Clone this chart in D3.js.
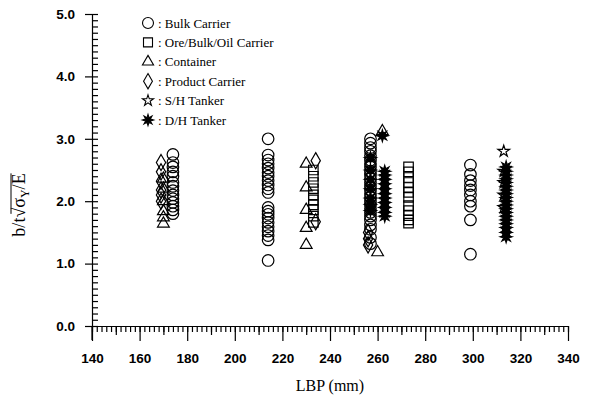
<!DOCTYPE html>
<html>
<head>
<meta charset="utf-8">
<script src="https://cdn.jsdelivr.net/npm/d3@7"></script>
<style>
  body { margin: 0; background: #fff; }
  svg { display: block; }
  .tick text { font-family: "Liberation Sans", Arial, sans-serif; font-weight: bold; font-size: 13.5px; fill: #000; }
  .domain, .tick line { stroke: #000; stroke-width: 1.2; }
</style>
</head>
<body>
<div id="chart"></div>
<script>
// chart size
const w = 594;
const h = 399;

// axis ticks
const xTicks = [140, 160, 180, 200, 220, 240, 260, 280, 300, 320, 340];
const yTicks = [0, 1, 2, 3, 4, 5];

// legend names
const seriesNames = [": Bulk Carrier", ": Ore/Bulk/Oil Carrier", ": Container", ": Product Carrier", ": S/H Tanker", ": D/H Tanker"];

// bulk carrier (circles)
const bulkLbp = [174,174,174,174,174,174,174,174,174,174,174,174,174,174,
  214,214,214,214,214,214,214,214,214,214,214,214,214,214,214,214,214,214,214,214,214,
  257,257,257,257,257,257,257,257,257,257,257,257,257,257,257,257,257,257,257,257,257,257,257,257,257,257,
  299,299,299,299,299,299,299,299,299,299];
const bulkVal = [2.75,2.62,2.55,2.47,2.40,2.30,2.24,2.17,2.10,2.04,1.98,1.92,1.86,1.80,
  3.00,2.74,2.66,2.60,2.53,2.46,2.40,2.33,2.26,2.20,2.14,1.90,1.84,1.79,1.73,1.66,1.59,1.52,1.45,1.38,1.05,
  3.00,2.93,2.86,2.80,2.73,2.66,2.60,2.55,2.48,2.42,2.36,2.30,2.24,2.18,2.12,2.06,2.00,1.94,1.88,1.82,1.76,1.70,1.62,1.55,1.42,1.32,
  2.58,2.43,2.33,2.25,2.18,2.10,2.00,1.92,1.70,1.15];

// ore/bulk/oil carrier (squares)
const oboLbp = [233,233,233,233,233,233,233,233,233,233,
  273,273,273,273,273,273,273,273,273,273,273,273];
const oboVal = [2.50,2.40,2.30,2.20,2.10,2.02,1.94,1.86,1.76,1.66,
  2.55,2.47,2.38,2.30,2.22,2.14,2.06,1.93,1.85,1.77,1.70,1.65];

// container (triangles)
const contLbp = [170,170,170,170,170,170, 230,230,230,230,230, 262,260];
const contVal = [2.36,2.20,2.00,1.84,1.74,1.64, 2.60,2.22,1.86,1.57,1.30, 3.12,1.18];

// product carrier (diamonds)
const prodLbp = [169,169,169,169,169,169, 234,234, 256,256,256];
const prodVal = [2.62,2.47,2.32,2.18,2.10,2.00, 2.65,1.67, 1.50,1.40,1.30];

// s/h tanker (open stars)
const shLbp = [313,313,313,313,313];
const shVal = [2.80,2.48,2.30,2.10,1.90];

// d/h tanker (filled bursts)
const dhLbp = [262,263,263,263,263,263,263,263,263,263,263,263,
  257,257,257,257,257,257,257,
  314,314,314,314,314,314,314,314,314,314,314,314,314,314,314,314,314,314,314];
const dhVal = [3.05,2.48,2.42,2.35,2.28,2.20,2.12,2.05,1.98,1.90,1.82,1.76,
  2.70,2.50,2.35,2.20,2.05,1.95,1.85,
  2.55,2.48,2.42,2.36,2.30,2.24,2.18,2.12,2.06,2.00,1.94,1.88,1.82,1.76,1.70,1.64,1.58,1.50,1.43];

// scales
const x = d3.scaleLinear().domain([140, 340]).range([92, 568]);
const y = d3.scaleLinear().domain([0, 5]).range([326, 14]);

const svg = d3.select("#chart").append("svg")
  .attr("width", w).attr("height", h);

// custom marker: 8 point burst
const burst = {
  draw(ctx, size) {
    const r = Math.sqrt(size) * 0.75, ri = r * 0.45;
    for (let i = 0; i < 16; i++) {
      const a = i * Math.PI / 8 - Math.PI / 2;
      const rr = i % 2 === 0 ? r : ri;
      if (i === 0) ctx.moveTo(rr * Math.cos(a), rr * Math.sin(a));
      else ctx.lineTo(rr * Math.cos(a), rr * Math.sin(a));
    }
    ctx.closePath();
  }
};

const series = [
  { lbp: bulkLbp, val: bulkVal, type: d3.symbolCircle, size: 105, fill: "none" },
  { lbp: oboLbp, val: oboVal, type: d3.symbolSquare, size: 90, fill: "none" },
  { lbp: contLbp, val: contVal, type: d3.symbolTriangle, size: 60, fill: "none" },
  { lbp: prodLbp, val: prodVal, type: d3.symbolDiamond, size: 75, fill: "none" },
  { lbp: shLbp, val: shVal, type: d3.symbolStar, size: 42, fill: "none" },
  { lbp: dhLbp, val: dhVal, type: burst, size: 62, fill: "#000" }
];

// axes - x (minor, mid, major)
svg.append("g")
  .attr("transform", "translate(0," + y(0) + ")")
  .call(d3.axisBottom(x).tickValues(d3.range(140, 341, 2)).tickSize(6).tickFormat(""))
  .call(g => g.select(".domain").remove());
svg.append("g")
  .attr("transform", "translate(0," + y(0) + ")")
  .call(d3.axisBottom(x).tickValues(d3.range(150, 340, 20)).tickSize(9).tickFormat(""))
  .call(g => g.select(".domain").remove());
svg.append("g")
  .attr("transform", "translate(0," + y(0) + ")")
  .call(d3.axisBottom(x).tickValues(xTicks).tickSizeInner(15).tickSizeOuter(0).tickPadding(12).tickFormat(d3.format("d")));

// axes - y
svg.append("g")
  .attr("transform", "translate(" + x(140) + ",0)")
  .call(d3.axisRight(y).tickValues(d3.range(0, 5.01, 0.1)).tickSize(6).tickFormat(""))
  .call(g => g.select(".domain").remove());
svg.append("g")
  .attr("transform", "translate(" + x(140) + ",0)")
  .call(d3.axisLeft(y).tickValues(yTicks).tickSizeInner(7).tickSizeOuter(0).tickPadding(10).tickFormat(d3.format(".1f")));
// small axis stub below zero
svg.append("line")
  .attr("x1", x(140)).attr("x2", x(140))
  .attr("y1", y(0)).attr("y2", y(0) + 14)
  .attr("stroke", "#000").attr("stroke-width", 1.2);

// plot points
series.forEach(s => {
  svg.append("g").selectAll("path")
    .data(s.lbp.map((l, i) => [l, s.val[i]]))
    .enter().append("path")
    .attr("transform", d => "translate(" + x(d[0]) + "," + y(d[1]) + ")")
    .attr("d", d3.symbol().type(s.type).size(s.size))
    .attr("fill", s.fill)
    .attr("stroke", "#000")
    .attr("stroke-width", 1.2);
});

// legend
const legend = svg.append("g").attr("transform", "translate(148,23)");
seriesNames.forEach((name, i) => {
  const s = series[i];
  legend.append("path")
    .attr("transform", "translate(0," + (i * 19.4) + ")")
    .attr("d", d3.symbol().type(s.type).size(s.size * 0.9))
    .attr("fill", s.fill)
    .attr("stroke", "#000")
    .attr("stroke-width", 1.1);
  legend.append("text")
    .attr("x", 10).attr("y", i * 19.4 + 4.5)
    .attr("font-family", "Liberation Serif, Times New Roman, serif")
    .attr("font-size", 13)
    .text(name);
});

// x title
svg.append("text")
  .attr("x", 330).attr("y", 391)
  .attr("text-anchor", "middle")
  .attr("font-family", "Liberation Serif, Times New Roman, serif")
  .attr("font-size", 16)
  .text("LBP (mm)");

// y title
const yt = svg.append("g").attr("transform", "translate(25,205) rotate(-90)");
const ytext = yt.append("text")
  .attr("text-anchor", "middle")
  .attr("font-family", "Liberation Serif, Times New Roman, serif")
  .attr("font-size", 18);
ytext.append("tspan").text("b/t√σ");
ytext.append("tspan").attr("font-size", 12).attr("dy", 4).text("Y");
ytext.append("tspan").attr("dy", -4).text("/E");
// radical overline
const bb = ytext.node().getBBox();
yt.append("line")
  .attr("x1", bb.x + bb.width * 0.36).attr("x2", bb.x + bb.width)
  .attr("y1", bb.y + 2).attr("y2", bb.y + 2)
  .attr("stroke", "#000").attr("stroke-width", 1);
</script>
</body>
</html>
